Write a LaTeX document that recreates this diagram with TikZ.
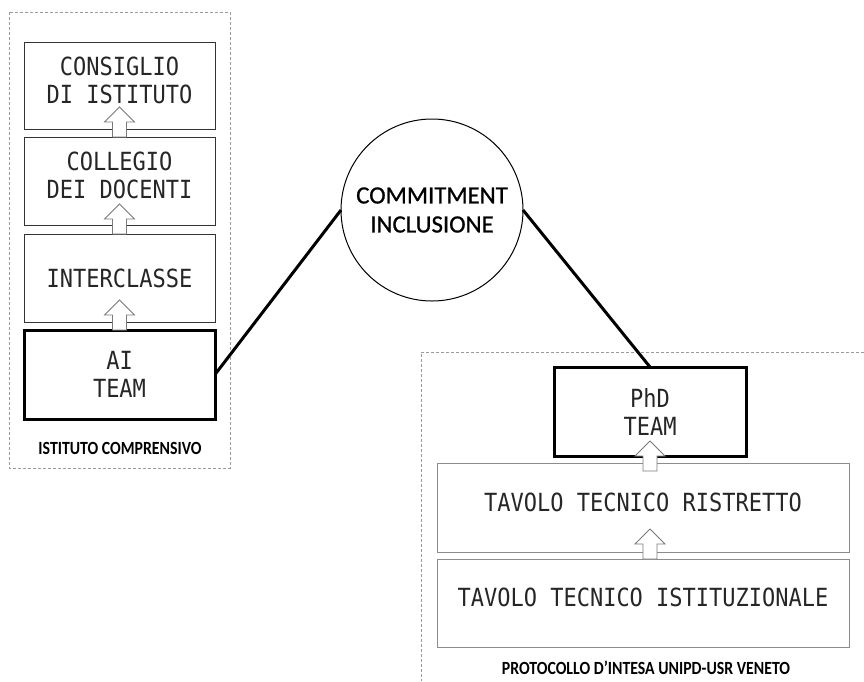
\documentclass[tikz,border=0pt]{standalone}
\usepackage{fontspec}
\newfontfamily\boxfont[FakeStretch=0.88]{DejaVu Sans Mono}
\newfontfamily\hubfont[FakeBold=0.8]{Carlito}
\newfontfamily\tagfont[FakeStretch=0.85]{Carlito}
\definecolor{boxline}{HTML}{333333}
\definecolor{lightline}{HTML}{8C8C8C}
\definecolor{arrowline}{HTML}{7A7A7A}
\definecolor{groupline}{HTML}{9A9A9A}
\tikzset{
  box/.style={draw=boxline, line width=1pt, fill=white, inner sep=0pt, outer sep=0pt,
    align=center, text=black!85, font={\boxfont\fontsize{25}{28}\selectfont}},
  lifted/.style={text depth=11pt},
  keybox/.style={box, draw=black, line width=3pt},
  lightbox/.style={box, draw=lightline},
  group/.style={draw=groupline, line width=0.8pt, dash pattern=on 3pt off 2pt},
  link/.style={draw=black, line width=3pt},
  hub/.style={circle, draw=black, line width=1pt, fill=white, minimum size=182pt,
    inner sep=0pt, outer sep=0pt, align=center, font={\hubfont\fontsize{24.8}{29}\selectfont}},
  tag/.style={inner sep=0pt, font={\tagfont\bfseries\fontsize{18.6}{20}\selectfont}},
  uparrow/.pic={\draw[draw=arrowline, fill=white, line width=0.8pt]
    (-7,0) -- (-7,-15) -- (-15,-15) -- (0,-30) -- (15,-15) -- (7,-15) -- (7,0) -- cycle;}
}
\begin{document}
\begin{tikzpicture}[x=1pt, y=-1pt]
  \useasboundingbox (0,0) rectangle (864,681);

  % dashed frames of the two organisations
  \draw[group] (9,12) rectangle (230,468);
  \draw[group] (864,352) -- (421,352) -- (421,681);

  % school chain
  \node[box, lifted, minimum width=191pt, minimum height=87pt] (consiglio) at (119.5,85.5) {CONSIGLIO\\DI ISTITUTO};
  \node[box, lifted, minimum width=191pt, minimum height=88pt] (collegio) at (119.5,181) {COLLEGIO\\DEI DOCENTI};
  \node[box, minimum width=191pt, minimum height=88pt] (interclasse) at (119.5,278) {INTERCLASSE};
  \node[keybox, minimum width=191pt, minimum height=89pt] (ai) at (119.5,374.5) {AI\\TEAM};
  \node[tag] (ic) at (120,448) {ISTITUTO COMPRENSIVO};

  \pic at (collegio.north) {uparrow};
  \pic at (interclasse.north) {uparrow};
  \pic at (ai.north) {uparrow};

  % university chain
  \node[keybox, minimum width=192pt, minimum height=89pt] (phd) at (650,411.5) {PhD\\TEAM};
  \node[lightbox, lifted, minimum width=412pt, minimum height=89pt] (ristretto) at (643,507.5) {TAVOLO TECNICO RISTRETTO};
  \node[lightbox, lifted, minimum width=412pt, minimum height=88pt] (istituzionale) at (643,603) {TAVOLO TECNICO ISTITUZIONALE};
  \node[tag] (protocollo) at (646,668) {PROTOCOLLO D’INTESA UNIPD-USR VENETO};

  \pic at ([yshift=-15pt]phd.south) {uparrow};
  \pic at (phd.south |- istituzionale.north) {uparrow};

  % shared commitment
  \node[hub] (hub) at (432,210) {COMMITMENT\\INCLUSIONE};
  \draw[link] (ai.east) -- (hub.west);
  \draw[link] (hub.east) -- (phd.north);
\end{tikzpicture}
\end{document}
